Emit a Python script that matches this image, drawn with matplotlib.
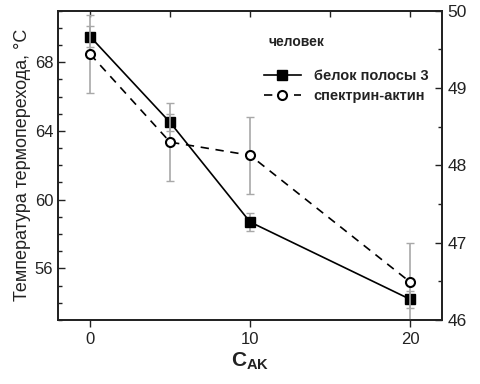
import numpy as np
import matplotlib.pyplot as plt
from matplotlib.ticker import MultipleLocator, FixedLocator

# ===============================
# Data
# ===============================
c_ak = [0, 5, 10, 20]

band3_temp = [69.5, 64.5, 58.7, 54.2]      # left axis, °C
band3_err = [0.6, 0.5, 0.5, 0.5]

spectrin_temp = [49.44, 48.30, 48.13, 46.49]  # right axis, °C
spectrin_err = [0.5, 0.5, 0.5, 0.5]

band3_label = "белок полосы 3"
spectrin_label = "спектрин-актин"
species_label = "человек"

# ===============================
# Style
# ===============================
plt.rcParams["font.family"] = ["Liberation Sans", "DejaVu Sans"]
plt.rcParams["mathtext.fontset"] = "custom"
plt.rcParams["mathtext.bf"] = "Liberation Sans:bold"
plt.rcParams["mathtext.rm"] = "Liberation Sans"

TEXT = "#222222"
ERR = "#a8a8a8"

fig = plt.figure(figsize=(4.8, 3.84), dpi=100)
ax = fig.add_axes([0.121, 0.167, 0.800, 0.805])
ax2 = ax.twinx()

# error bars first, gray
ax.errorbar(c_ak, band3_temp, yerr=band3_err, fmt="none",
            ecolor=ERR, elinewidth=1.2, capsize=3, capthick=1.0, zorder=1)
ax2.errorbar(c_ak, spectrin_temp, yerr=spectrin_err, fmt="none",
             ecolor=ERR, elinewidth=1.2, capsize=3, capthick=1.0, zorder=1)

h1, = ax.plot(c_ak, band3_temp, color="black", linewidth=1.2,
              marker="s", markersize=6.5, markerfacecolor="black",
              markeredgecolor="black", label=band3_label, zorder=3)
h2, = ax2.plot(c_ak, spectrin_temp, color="black", linewidth=1.2,
               linestyle=(0, (5, 4)), marker="o", markersize=6.5,
               markerfacecolor="white", markeredgecolor="black",
               markeredgewidth=1.5, label=spectrin_label, zorder=3)

# ===============================
# Axes
# ===============================
ax.set_xlim(-2, 22)
ax.set_ylim(53, 71)
ax2.set_ylim(46, 50)

ax.xaxis.set_major_locator(FixedLocator([0, 10, 20]))
ax.yaxis.set_major_locator(FixedLocator([56, 60, 64, 68]))
ax.yaxis.set_minor_locator(MultipleLocator(1))
ax2.yaxis.set_major_locator(MultipleLocator(1))
ax2.yaxis.set_minor_locator(MultipleLocator(0.5))

ax.tick_params(axis="x", direction="out", length=5, width=1, colors=TEXT,
               labelsize=12, pad=4, top=False)
ax.tick_params(axis="y", which="major", direction="in", length=5, width=1,
               colors=TEXT, labelsize=12)
ax.tick_params(axis="y", which="minor", direction="in", length=3, width=1,
               colors=TEXT)
ax2.tick_params(axis="y", which="major", direction="in", length=5, width=1,
                colors=TEXT, labelsize=12.5, pad=4)
ax2.tick_params(axis="y", which="minor", direction="in", length=3, width=1,
                colors=TEXT)

# top ticks every 5, inward
top = ax.secondary_xaxis("top")
top.set_xticks([0, 5, 10, 15, 20])
top.tick_params(direction="in", length=4, width=1, colors=TEXT, labeltop=False)
top.spines["top"].set_visible(False)

for a in (ax, ax2):
    for s in a.spines.values():
        s.set_linewidth(1.3)
        s.set_color(TEXT)

ax.set_ylabel("Температура термоперехода, °С", fontsize=13, color=TEXT,
              labelpad=3)
ax.set_xlabel(r"$\mathbf{C}_{\mathbf{AK}}$", fontsize=15, color=TEXT,
              labelpad=2)

# ===============================
# Legend
# ===============================
ax.text(0.547, 0.90, species_label, transform=ax.transAxes, fontsize=10,
        fontweight="bold", color=TEXT, va="center", ha="left")
ax.legend([h1, h2], [band3_label, spectrin_label], loc="upper left",
          bbox_to_anchor=(0.535, 0.812), frameon=False, borderpad=0,
          borderaxespad=0, handlelength=2.6, handletextpad=0.85,
          labelspacing=0.4, prop={"weight": "bold", "size": 10.5},
          labelcolor=TEXT)

fig.savefig("out.png", dpi=100)
